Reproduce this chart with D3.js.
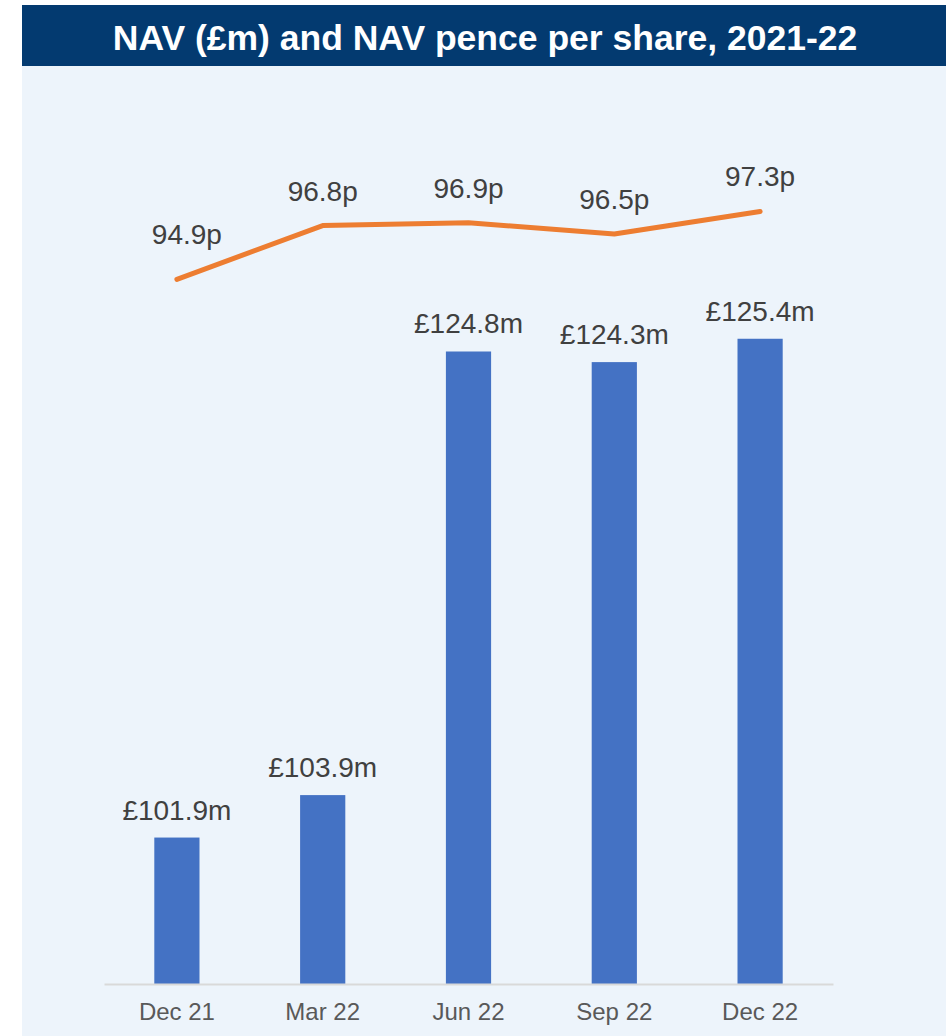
<!DOCTYPE html>
<html>
<head>
<meta charset="utf-8">
<script src="https://cdn.jsdelivr.net/npm/d3@7"></script>
<style>
  body { margin: 0; background: #ffffff; }
  svg text { font-family: "Liberation Sans", Arial, sans-serif; }
</style>
</head>
<body>
<svg id="chart"></svg>
<script>
var periods = ['Dec 21', 'Mar 22', 'Jun 22', 'Sep 22', 'Dec 22'];
var navMillions = [101.9, 103.9, 124.8, 124.3, 125.4];
var navPence = [94.9, 96.8, 96.9, 96.5, 97.3];
var navDomain = [95, 135];
var penceDomain = [70, 100];

var width = 952;
var height = 1036;
var plotLeft = 104, plotRight = 833, plotTop = 135, plotBottom = 984;

var data = periods.map(function(p, i) {
    return { period: p, nav: navMillions[i], pence: navPence[i] };
});

var svg = d3.select('#chart')
    .attr('width', width)
    .attr('height', height);

// panel background + title bar
svg.append('rect')
    .attr('x', 22).attr('y', 66)
    .attr('width', 924).attr('height', height - 66)
    .attr('fill', '#edf4fb');

svg.append('rect')
    .attr('x', 22).attr('y', 5)
    .attr('width', 924).attr('height', 61)
    .attr('fill', '#033a70');

svg.append('text')
    .attr('x', 485)
    .attr('y', 50)
    .attr('text-anchor', 'middle')
    .attr('fill', '#ffffff')
    .attr('font-weight', 'bold')
    .attr('font-size', '35.5px')
    .text('NAV (£m) and NAV pence per share, 2021-22');

var xScale = d3.scaleBand()
    .domain(periods)
    .range([plotLeft, plotRight])
    .paddingInner(0.69)
    .paddingOuter(0.345);

var yNav = d3.scaleLinear()
    .domain(navDomain)
    .range([plotBottom, plotTop]);

var yPence = d3.scaleLinear()
    .domain(penceDomain)
    .range([plotBottom, plotTop]);

// bars
svg.append('g')
    .selectAll('rect')
    .data(data)
    .enter()
    .append('rect')
        .attr('x', d => xScale(d.period))
        .attr('y', d => yNav(d.nav))
        .attr('width', xScale.bandwidth())
        .attr('height', d => plotBottom - yNav(d.nav))
        .attr('fill', '#4472c4');

// x axis
var xAxis = d3.axisBottom(xScale).tickSize(0).tickPadding(0);
var gx = svg.append('g')
    .attr('transform', 'translate(0,' + plotBottom + ')')
    .call(xAxis);
gx.select('.domain')
    .attr('stroke', '#d9d9d9')
    .attr('stroke-width', 2);
gx.selectAll('text')
    .attr('dy', null)
    .attr('y', 36)
    .attr('fill', '#595959')
    .attr('font-size', '24px')
    .attr('font-family', '"Liberation Sans", Arial, sans-serif');

// bar labels
svg.append('g')
    .selectAll('text')
    .data(data)
    .enter()
    .append('text')
        .attr('x', d => xScale(d.period) + xScale.bandwidth() / 2)
        .attr('y', d => yNav(d.nav) - 18)
        .attr('text-anchor', 'middle')
        .attr('fill', '#404040')
        .attr('font-size', '28px')
        .text(d => '£' + d.nav.toFixed(1) + 'm');

// pence line
var line = d3.line()
    .x(d => xScale(d.period) + xScale.bandwidth() / 2)
    .y(d => yPence(d.pence));

svg.append('path')
    .datum(data)
    .attr('d', line)
    .attr('fill', 'none')
    .attr('stroke', '#ed7d31')
    .attr('stroke-width', 5)
    .attr('stroke-linecap', 'round')
    .attr('stroke-linejoin', 'round');

svg.append('g')
    .selectAll('text')
    .data(data)
    .enter()
    .append('text')
        .attr('x', (d, i) => xScale(d.period) + xScale.bandwidth() / 2 + (i === 0 ? 10 : 0))
        .attr('y', (d, i) => yPence(d.pence) - (i === 0 ? 35 : 25))
        .attr('text-anchor', 'middle')
        .attr('fill', '#404040')
        .attr('font-size', '28px')
        .text(d => d.pence.toFixed(1) + 'p');
</script>
</body>
</html>
